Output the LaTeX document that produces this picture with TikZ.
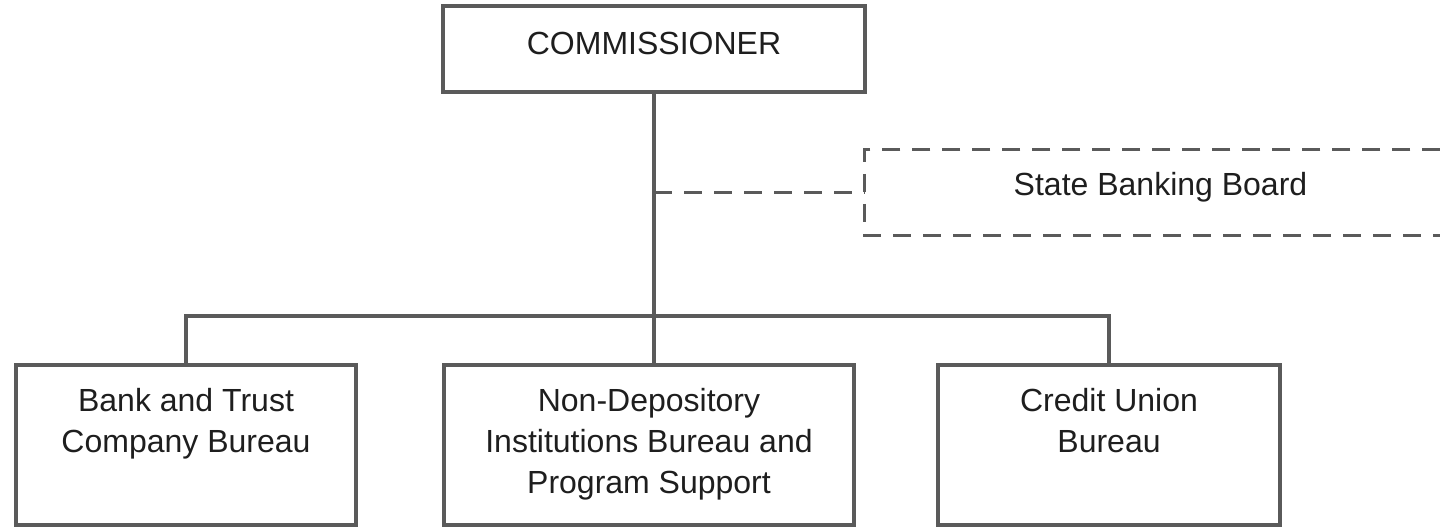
\documentclass[tikz,border=0pt]{standalone}
\usepackage{fontspec}
\setmainfont{Liberation Sans}
\definecolor{linegray}{HTML}{5A5A5A}
\definecolor{textgray}{HTML}{1E1E1E}

\begin{document}
\begin{tikzpicture}[x=0.5pt, y=-0.5pt,
  box/.style={draw=linegray, line width=1.8pt, rectangle, inner sep=0pt},
  lbl/.style={anchor=north, align=center, inner sep=0pt, yshift=-12.5pt,
    text=textgray, font=\fontsize{16}{20.5}\selectfont},
  link/.style={draw=linegray, line width=1.8pt},
  advise/.style={link, dash pattern=on 9pt off 6pt}]
  \useasboundingbox (0,0) rectangle (1440,529);
  % head of the department
  \node[box, minimum width=211pt, minimum height=43pt,
    label={[lbl, yshift=-1.5pt]north:COMMISSIONER}] (boss) at (654,49) {};
  % advisory board, open on the right
  \node[inner sep=0pt, minimum width=287.5pt, minimum height=42.5pt,
    label={[lbl, xshift=4pt, yshift=1.5pt]north:State Banking Board}] (board) at (1152.5,192.5) {};
  \draw[advise] (board.north east) -- (board.north west) -- (board.south west) -- (board.south east);
  % bureaus
  \node[box, minimum width=170pt, minimum height=80pt,
    label={[lbl]north:Bank and Trust\\Company Bureau}] (bank) at (186,445) {};
  \node[box, minimum width=205pt, minimum height=80pt,
    label={[lbl]north:Non-Depository\\Institutions Bureau and\\Program Support}] (nondep) at (649,445) {};
  \node[box, minimum width=171pt, minimum height=80pt,
    label={[lbl]north:Credit Union\\Bureau}] (credit) at (1109,445) {};
  % connectors
  \coordinate (bus) at (boss.south |- 0,316);
  \coordinate (tap) at (boss.south |- board.west);
  \draw[link] (boss.south) -- (boss.south |- nondep.north);
  \draw[link] (bank.north) |- (bus) -| (credit.north);
  \draw[advise] (tap) -- (board.west);
\end{tikzpicture}
\end{document}
